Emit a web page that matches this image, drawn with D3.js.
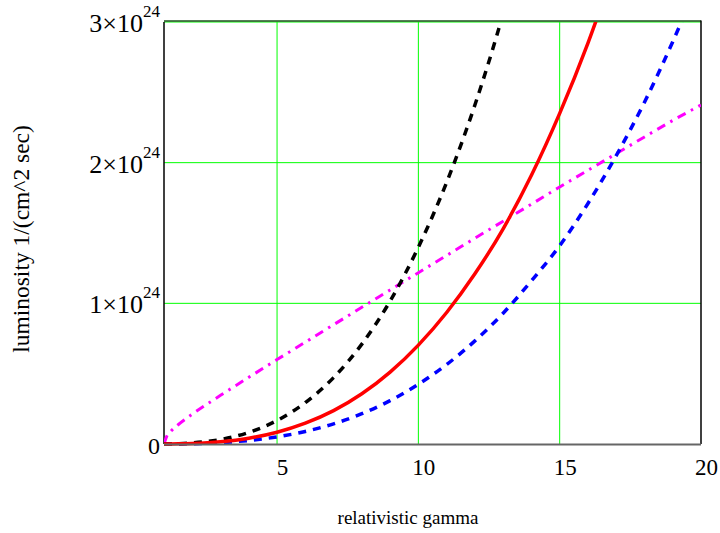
<!DOCTYPE html>
<html>
<head>
<meta charset="utf-8">
<script src="https://cdn.jsdelivr.net/npm/d3@7/dist/d3.min.js"></script>
<style>
  html, body { margin: 0; padding: 0; background: #fff; }
  svg { display: block; font-family: "Liberation Serif", "Times New Roman", serif; }
</style>
</head>
<body>
<svg id="chart" width="720" height="533"></svg>
<script>
// Relativistic gamma sample points
const gammaMain = [1, 1.25, 1.5, 2, 3, 4, 5, 6, 7, 8, 9, 10, 11, 12, 13, 14, 15, 16, 17, 18, 19, 20];
const gammaMagenta = [1, 1.1, 1.25, 1.5, 2, 3, 4, 5, 6, 7, 8, 9, 10, 11, 12, 13, 14, 15, 16, 17, 18, 19, 20];

// Luminosity values in units of 1e24 1/(cm^2 sec)
const blackValues   = [0, 0.0006, 0.002, 0.0074, 0.032, 0.0825, 0.167, 0.294, 0.472, 0.710, 1.016, 1.399, 1.86, 2.41, 3.06, 3.83, null, null, null, null, null, null];
const redValues     = [0, 0.0003, 0.001, 0.0037, 0.0162, 0.0415, 0.084, 0.148, 0.237, 0.357, 0.511, 0.703, 0.935, 1.21, 1.53, 1.91, 2.35, 2.85, 3.42, null, null, null];
const blueValues    = [0, 0.0002, 0.0006, 0.0022, 0.0098, 0.025, 0.0507, 0.0893, 0.143, 0.2155, 0.308, 0.4245, 0.565, 0.733, 0.93, 1.16, 1.41, 1.71, 2.05, 2.43, 2.86, 3.33];
const magentaValues = [0, 0.056, 0.092, 0.137, 0.212, 0.346, 0.474, 0.600, 0.724, 0.848, 0.972, 1.095, 1.218, 1.340, 1.463, 1.584, 1.705, 1.827, 1.946, 2.064, 2.183, 2.300, 2.410];

const xTicks = [5, 10, 15, 20];
const yTicks = [0, 1, 2, 3];
const xTitle = "relativistic gamma";
const yTitle = "luminosity 1/(cm^2 sec)";

const svg = d3.select("#chart");
const pLeft = 164, pRight = 701, pTop = 22, pBottom = 444;

const x = d3.scaleLinear().domain([1, 20]).range([pLeft, pRight]);
const y = d3.scaleLinear().domain([0, 3]).range([pBottom, pTop]);

// Grid lines
const grid = svg.append("g");
grid.selectAll("line.vx").data([5, 10, 15]).enter().append("line")
  .attr("x1", d => x(d)).attr("x2", d => x(d)).attr("y1", pTop).attr("y2", pBottom)
  .attr("stroke", "#00ff00").attr("stroke-width", 1);
grid.selectAll("line.hy").data([1, 2, 3]).enter().append("line")
  .attr("x1", pLeft).attr("x2", pRight).attr("y1", d => y(d)).attr("y2", d => y(d))
  .attr("stroke", "#00ff00").attr("stroke-width", 1);

// Frame
svg.append("line").attr("x1", pLeft).attr("x2", pRight).attr("y1", pTop - 1).attr("y2", pTop - 1)
  .attr("stroke", "#1f4f1f").attr("stroke-width", 1.5);
svg.append("line").attr("x1", pRight).attr("x2", pRight).attr("y1", pTop - 1.5).attr("y2", pBottom)
  .attr("stroke", "#000").attr("stroke-width", 1.5);
svg.append("line").attr("x1", pLeft).attr("x2", pLeft).attr("y1", pTop).attr("y2", pBottom)
  .attr("stroke", "#000").attr("stroke-width", 1.5);

// Clip
svg.append("clipPath").attr("id", "plotclip").append("rect")
  .attr("x", pLeft).attr("y", pTop).attr("width", pRight - pLeft).attr("height", pBottom - pTop + 3);

const plot = svg.append("g").attr("clip-path", "url(#plotclip)");

function drawSeries(gs, vals, color, dash, width) {
  const pts = gs.map((g, i) => [g, vals[i]]).filter(p => p[1] !== null);
  const line = d3.line().x(p => x(p[0])).y(p => y(p[1])).curve(d3.curveMonotoneX);
  plot.append("path").attr("d", line(pts)).attr("fill", "none")
    .attr("stroke", color).attr("stroke-width", width)
    .attr("stroke-dasharray", dash);
}

drawSeries(gammaMagenta, magentaValues, "#ff00ff", "9,6,2.5,6", 3);
drawSeries(gammaMain, blueValues, "#0000ff", "8,7", 3.5);
drawSeries(gammaMain, blackValues, "#000000", "8,7", 3.5);
drawSeries(gammaMain, redValues, "#ff0000", null, 3.5);

// Bottom axis line (gray)
svg.append("line").attr("x1", pLeft).attr("x2", pRight).attr("y1", pBottom + 0.5).attr("y2", pBottom + 0.5)
  .attr("stroke", "#666").attr("stroke-width", 2);

// X axis
const xAxis = svg.append("g").attr("transform", `translate(0,${pBottom})`)
  .call(d3.axisBottom(x).tickValues(xTicks).tickSize(0).tickFormat(d3.format("d")));
xAxis.select(".domain").remove();
xAxis.selectAll("text").attr("font-size", 23).attr("font-family", "Liberation Serif")
  .attr("fill", "#000").attr("dx", 5).attr("y", 31).attr("dy", 0);

// Y axis
const yAxis = svg.append("g").attr("transform", `translate(${pLeft},0)`)
  .call(d3.axisLeft(y).tickValues(yTicks).tickSize(0).tickFormat(() => ""));
yAxis.select(".domain").remove();
yAxis.selectAll(".tick text").each(function(d) {
  const t = d3.select(this);
  t.attr("x", -4).attr("dy", 0).attr("y", 9.5).attr("font-family", "Liberation Serif")
    .attr("fill", "#000").attr("text-anchor", "end");
  if (d === 0) {
    t.append("tspan").attr("font-size", 24).text("0");
  } else {
    t.append("tspan").attr("font-size", 26).text(d + "\u00d710");
    t.append("tspan").attr("font-size", 17).attr("dy", -15).text("24");
  }
});

// Titles
svg.append("text").attr("x", 408).attr("y", 524).attr("text-anchor", "middle")
  .attr("font-size", 19).text(xTitle);
svg.append("text").attr("transform", "translate(29,239) rotate(-90)").attr("text-anchor", "middle")
  .attr("font-size", 23.5).text(yTitle);
</script>
</body>
</html>
